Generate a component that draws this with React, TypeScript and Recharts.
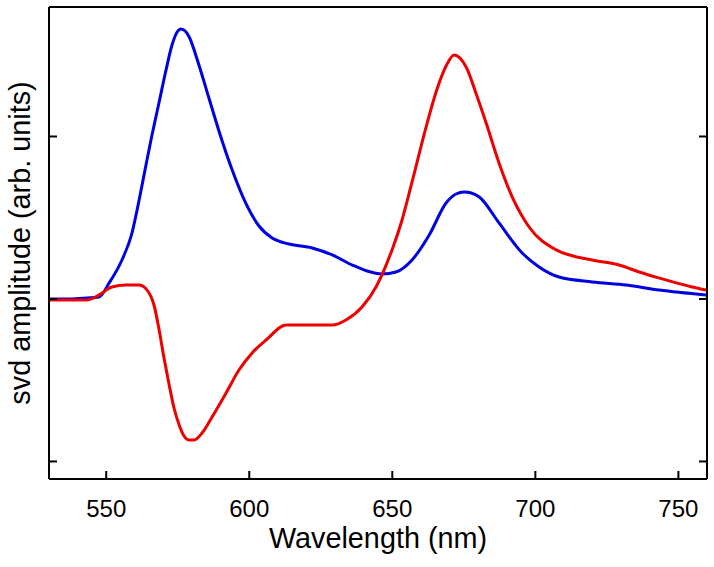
import React from "react";
import { LineChart, Line, XAxis, YAxis } from "recharts";

// wavelengths (nm) and amplitudes
const blueNm = [
  530, 537, 543.3, 547.5, 551, 555.5, 559, 561.5, 563.9, 566, 568.5, 570.9, 573,
  574.8, 576.2, 577.6, 579, 582.4, 585.9, 589.4, 594, 598.9, 603.4, 608, 613.9,
  622, 629, 636, 641.2, 646.4, 651.3, 656.9, 662.9, 668.8, 672.3, 675.1, 677.6,
  680.4, 687.3, 695.4, 701.3, 708.3, 719.9, 731.8, 743.3, 759.7,
];
const blueAmp = [
  0, 0, 0.006, 0.012, 0.098, 0.24, 0.406, 0.609, 0.825, 1.009, 1.212, 1.409,
  1.563, 1.643, 1.662, 1.649, 1.612, 1.44, 1.237, 1.034, 0.795, 0.585, 0.449,
  0.375, 0.338, 0.314, 0.271, 0.209, 0.172, 0.154, 0.166, 0.24, 0.394, 0.591,
  0.646, 0.658, 0.652, 0.628, 0.468, 0.283, 0.197, 0.135, 0.105, 0.086, 0.055,
  0.025,
];

const redNm = [
  530, 543.3, 547.5, 552, 556.9, 561.5, 565, 566.7, 568.5, 570.2, 572, 573.7,
  575.5, 577.2, 579, 580.7, 583.5, 587, 591.9, 596.4, 601, 605.9, 612.9, 617.4,
  622, 629, 633.8, 639.4, 644.3, 647.1, 649.9, 653.4, 656.9, 661.8, 665.3,
  668.8, 671.6, 675.8, 679.7, 682.8, 687.3, 691.9, 697.8, 707.3, 719.9, 729.3,
  736.3, 743.3, 754.8, 759.7,
];
const redAmp = [
  -0.006, -0.006, 0.025, 0.074, 0.086, 0.086, 0.037, -0.037, -0.191, -0.363,
  -0.529, -0.671, -0.775, -0.843, -0.868, -0.868, -0.825, -0.726, -0.578,
  -0.437, -0.332, -0.252, -0.16, -0.16, -0.16, -0.16, -0.129, -0.049, 0.074,
  0.178, 0.302, 0.486, 0.72, 1.058, 1.274, 1.434, 1.502, 1.428, 1.243, 1.083,
  0.837, 0.628, 0.443, 0.302, 0.24, 0.209, 0.166, 0.129, 0.074, 0.055,
];

const xTicks = [550, 600, 650, 700, 750];
const yTicks = [-1, 0, 1];

const blueData = blueNm.map((nm, i) => ({ nm, amp: blueAmp[i] }));
const redData = redNm.map((nm, i) => ({ nm, amp: redAmp[i] }));

const FONT = '"Liberation Sans", Arial, sans-serif';
const axisLine = { stroke: "#000", strokeWidth: 2 };
const tickLine = { stroke: "#000", strokeWidth: 2 };
const yDomain: [number, number] = [-1.108, 1.797];

export default function App() {
  return (
    <div style={{ position: "absolute", left: 0, top: 0, fontFamily: FONT }}>
      <LineChart
        width={714}
        height={567}
        margin={{ top: 0, right: 0, bottom: 0, left: 0 }}
      >
        <XAxis
          dataKey="nm"
          type="number"
          domain={[530, 760]}
          ticks={xTicks}
          allowDataOverflow
          height={88}
          axisLine={axisLine}
          tickLine={tickLine}
          tickSize={-8}
          tickMargin={29}
          tick={{ fontSize: 24, fill: "#000", fontFamily: FONT }}
          label={{
            value: "Wavelength (nm)",
            position: "insideBottom",
            offset: 19,
            style: { fontSize: 28.8, fill: "#000", fontFamily: FONT },
          }}
        />
        <XAxis
          xAxisId="top"
          orientation="top"
          dataKey="nm"
          type="number"
          domain={[530, 760]}
          allowDataOverflow
          height={7}
          axisLine={axisLine}
          tick={false}
          tickLine={false}
        />
        <YAxis
          type="number"
          domain={yDomain}
          ticks={yTicks}
          allowDataOverflow
          width={49}
          axisLine={axisLine}
          tickLine={tickLine}
          tickSize={-8}
          tickFormatter={() => ""}
          label={{
            value: "svd amplitude (arb. units)",
            angle: -90,
            position: "center",
            dx: -5,
            style: { fontSize: 28.8, fill: "#000", fontFamily: FONT },
          }}
        />
        <YAxis
          yAxisId="right"
          orientation="right"
          type="number"
          domain={yDomain}
          ticks={yTicks}
          allowDataOverflow
          width={7}
          axisLine={axisLine}
          tickLine={tickLine}
          tickSize={-8}
          tickFormatter={() => ""}
        />
        <Line
          data={blueData}
          dataKey="amp"
          type="monotone"
          stroke="#0000e0"
          strokeWidth={3}
          dot={false}
          isAnimationActive={false}
        />
        <Line
          data={redData}
          dataKey="amp"
          xAxisId="top"
          yAxisId="right"
          type="monotone"
          stroke="#ee0000"
          strokeWidth={3}
          dot={false}
          isAnimationActive={false}
        />
      </LineChart>
    </div>
  );
}
